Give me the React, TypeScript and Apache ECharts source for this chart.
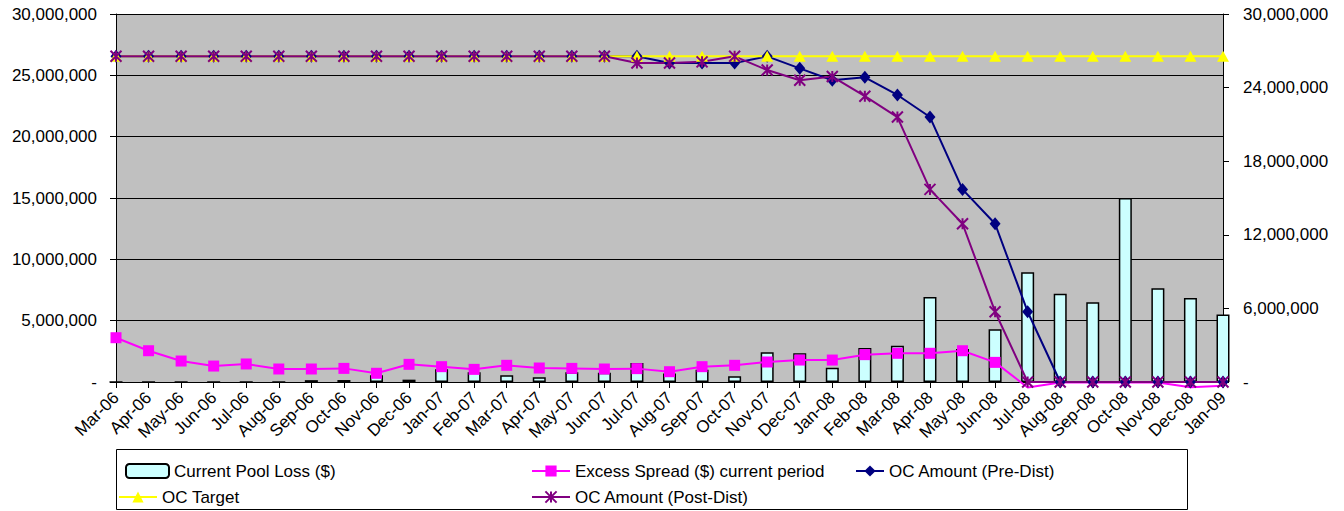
import React, { useEffect, useRef } from 'react';
import * as echarts from 'echarts';

const months = [
  'Mar-06', 'Apr-06', 'May-06', 'Jun-06', 'Jul-06', 'Aug-06', 'Sep-06', 'Oct-06', 'Nov-06', 'Dec-06',
  'Jan-07', 'Feb-07', 'Mar-07', 'Apr-07', 'May-07', 'Jun-07', 'Jul-07', 'Aug-07', 'Sep-07', 'Oct-07',
  'Nov-07', 'Dec-07', 'Jan-08', 'Feb-08', 'Mar-08', 'Apr-08', 'May-08', 'Jun-08', 'Jul-08', 'Aug-08',
  'Sep-08', 'Oct-08', 'Nov-08', 'Dec-08', 'Jan-09',
];

const currentPoolLoss = [
  0, 0, 0, 0, 0, 0, 150000, 160000, 550000, 190000,
  1030000, 800000, 550000, 380000, 800000, 750000, 1550000, 700000, 1000000, 460000,
  2420000, 2340000, 1170000, 2770000, 2960000, 6930000, 2700000, 4300000, 8950000, 7200000,
  6500000, 15000000, 7650000, 6850000, 5500000,
];

const excessSpread = [
  3610000, 2550000, 1710000, 1300000, 1470000, 1060000, 1060000, 1110000, 710000, 1440000,
  1250000, 1030000, 1360000, 1140000, 1110000, 1060000, 1090000, 840000, 1250000, 1360000,
  1630000, 1790000, 1790000, 2230000, 2340000, 2340000, 2550000, 1600000, -450000, -50000,
  -50000, -50000, -50000, -430000, -300000,
];

const ocPreDist = [
  26550000, 26550000, 26550000, 26550000, 26550000, 26550000, 26550000, 26550000, 26550000, 26550000,
  26550000, 26550000, 26550000, 26550000, 26550000, 26550000, 26550000, 26000000, 26000000, 26000000,
  26550000, 25570000, 24600000, 24840000, 23400000, 21600000, 15700000, 12900000, 5730000, 0,
  0, 0, 0, 0, 0,
];

const ocTarget = [
  26550000, 26550000, 26550000, 26550000, 26550000, 26550000, 26550000, 26550000, 26550000, 26550000,
  26550000, 26550000, 26550000, 26550000, 26550000, 26550000, 26550000, 26550000, 26550000, 26550000,
  26550000, 26550000, 26550000, 26550000, 26550000, 26550000, 26550000, 26550000, 26550000, 26550000,
  26550000, 26550000, 26550000, 26550000, 26550000,
];

const ocPostDist = [
  26550000, 26550000, 26550000, 26550000, 26550000, 26550000, 26550000, 26550000, 26550000, 26550000,
  26550000, 26550000, 26550000, 26550000, 26550000, 26550000, 26000000, 26000000, 26100000, 26550000,
  25430000, 24600000, 24900000, 23300000, 21600000, 15700000, 12900000, 5730000, 0, 0,
  0, 0, 0, 0, 0,
];

const FONT = 'Liberation Sans, Arial, sans-serif';
const STAR = 'path://M0,0L10,10M10,0L0,10M5,0L5,10';

const fmt = (v: number) => (v === 0 ? '-' : v.toLocaleString('en-US'));

export default function App() {
  const ref = useRef<HTMLDivElement>(null);

  useEffect(() => {
    if (!ref.current) return;
    const chart = echarts.init(ref.current, undefined, { renderer: 'svg' });

    const legendBase = {
      orient: 'horizontal',
      itemHeight: 14,
      padding: 0,
      textStyle: { fontFamily: FONT, fontSize: 17, color: '#000', lineHeight: 20 },
      selectedMode: false,
    };

    chart.setOption({
      animation: false,
      backgroundColor: '#fff',
      grid: {
        left: 116,
        top: 14,
        right: 121,
        bottom: 129,
        show: true,
        backgroundColor: '#C0C0C0',
        borderWidth: 0,
      },
      xAxis: {
        type: 'category',
        data: months,
        boundaryGap: false,
        axisLine: { lineStyle: { color: '#000', width: 1 } },
        axisTick: { interval: 0, length: 6, lineStyle: { color: '#000' } },
        axisLabel: {
          interval: 0,
          rotate: 45,
          margin: 13,
          color: '#000',
          fontFamily: FONT,
          fontSize: 17,
        },
      },
      yAxis: [
        {
          type: 'value',
          min: 0,
          max: 30000000,
          interval: 5000000,
          position: 'left',
          axisLine: { show: true, lineStyle: { color: '#000' } },
          axisTick: { show: true, length: 6, lineStyle: { color: '#000' } },
          splitLine: { show: true, lineStyle: { color: '#000', width: 1 } },
          axisLabel: { formatter: fmt, color: '#000', fontFamily: FONT, fontSize: 17, margin: 19 },
        },
        {
          type: 'value',
          min: 0,
          max: 30000000,
          interval: 6000000,
          position: 'right',
          axisLine: { show: true, lineStyle: { color: '#000' } },
          axisTick: { show: true, length: 6, lineStyle: { color: '#000' } },
          splitLine: { show: false },
          axisLabel: { formatter: fmt, color: '#000', fontFamily: FONT, fontSize: 17, margin: 20 },
        },
      ],
      graphic: [
        {
          type: 'rect',
          z: 1,
          shape: { x: 116.5, y: 449.5, width: 1071, height: 60 },
          style: { fill: '#fff', stroke: '#000', lineWidth: 1 },
        },
      ],
      legend: [
        { ...legendBase, data: ['Current Pool Loss ($)'], left: 125, top: 461, itemWidth: 43 },
        { ...legendBase, data: ['OC Target'], left: 118, top: 487, itemWidth: 38 },
        { ...legendBase, data: ['Excess Spread ($) current period'], left: 531, top: 461, itemWidth: 38 },
        { ...legendBase, data: ['OC Amount (Post-Dist)'], left: 531, top: 487, itemWidth: 38 },
        { ...legendBase, data: ['OC Amount (Pre-Dist)'], left: 855, top: 461, itemWidth: 28 },
      ],
      series: [
        {
          name: 'Current Pool Loss ($)',
          type: 'bar',
          data: currentPoolLoss,
          barWidth: 13,
          clip: true,
          itemStyle: { color: '#CCFFFF', borderColor: '#000', borderWidth: 1.5 },
        },
        {
          name: 'Excess Spread ($) current period',
          type: 'line',
          clip: false,
          data: excessSpread.map((v) => (v < 0 ? { value: v, symbol: 'none' } : v)),
          symbol: 'rect',
          symbolSize: 11,
          lineStyle: { color: '#FF00FF', width: 2 },
          itemStyle: { color: '#FF00FF' },
        },
        {
          name: 'OC Amount (Pre-Dist)',
          type: 'line',
          data: ocPreDist,
          symbol: 'diamond',
          symbolSize: [11, 13],
          clip: false,
          lineStyle: { color: '#000080', width: 2 },
          itemStyle: { color: '#000080' },
        },
        {
          name: 'OC Target',
          type: 'line',
          data: ocTarget,
          symbol: 'triangle',
          symbolSize: [12, 11],
          clip: false,
          lineStyle: { color: '#FFFF00', width: 2 },
          itemStyle: { color: '#FFFF00' },
        },
        {
          name: 'OC Amount (Post-Dist)',
          type: 'line',
          data: ocPostDist,
          symbol: STAR,
          symbolSize: 11,
          clip: false,
          lineStyle: { color: '#800080', width: 2 },
          itemStyle: { color: '#800080', borderColor: '#800080', borderWidth: 2 },
        },
      ],
    });

    return () => chart.dispose();
  }, []);

  return (
    <div
      ref={ref}
      style={{ position: 'fixed', left: 0, top: 0, width: 1344, height: 511 }}
    />
  );
}
